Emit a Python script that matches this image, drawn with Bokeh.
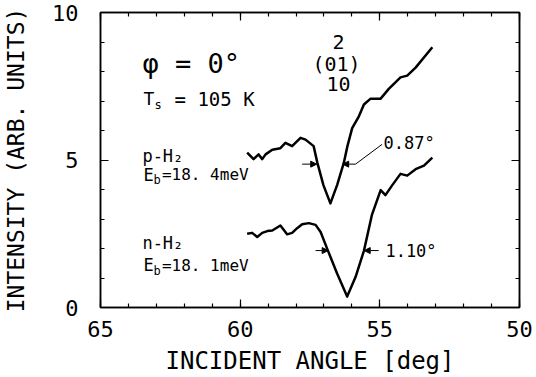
import numpy as np
from bokeh.plotting import figure
from bokeh.models import Range1d, LinearAxis, FixedTicker, Arrow, NormalHead
from bokeh.embed import file_html
from bokeh.resources import INLINE
from bokeh.core.properties import value

# p-H2 curve (upper)
p_angle = [59.75, 59.52, 59.34, 59.21, 59.09, 58.85, 58.56, 58.38, 58.14, 57.84, 57.66,
           57.37, 57.24, 57.02, 56.77, 56.53, 56.29, 56.16, 55.99, 55.75, 55.57, 55.33,
           54.97, 54.68, 54.26, 54.02, 53.72, 53.12]
p_int = [5.25, 5.03, 5.19, 5.03, 5.19, 5.35, 5.40, 5.58, 5.47, 5.75, 5.69,
         5.47, 4.92, 4.15, 3.53, 4.15, 4.90, 5.47, 6.08, 6.48, 6.88, 7.08,
         7.08, 7.41, 7.80, 7.86, 8.13, 8.82]

# n-H2 curve (lower)
n_angle = [59.75, 59.57, 59.39, 59.21, 59.03, 58.85, 58.56, 58.32, 58.14, 57.96, 57.78,
           57.54, 57.30, 57.12, 56.88, 56.53, 56.17, 55.87, 55.57, 55.28, 54.97, 54.80,
           54.56, 54.26, 54.02, 53.72, 53.42, 53.12]
n_int = [2.50, 2.53, 2.39, 2.53, 2.59, 2.61, 2.78, 2.48, 2.53, 2.69, 2.82,
         2.86, 2.80, 2.56, 1.98, 1.15, 0.37, 1.03, 1.92, 3.15, 3.98, 3.81,
         4.14, 4.53, 4.47, 4.69, 4.81, 5.08]

x_major = [65, 60, 55, 50]
x_minor = list(range(50, 66))
y_major = [0, 5, 10]
y_minor = list(range(0, 11))

FONT = "DejaVu Sans Mono"

p = figure(width=536, height=377, x_range=Range1d(65, 50), y_range=Range1d(0, 10),
           output_backend="svg", toolbar_location=None,
           min_border_left=100, min_border_right=17, min_border_top=12, min_border_bottom=69)
p.grid.grid_line_color = None
p.outline_line_color = "black"
p.outline_line_width = 1.5
p.background_fill_color = "white"
p.border_fill_color = "white"


def style_axis(ax, ticks, minor, labels=True):
    ax.ticker = FixedTicker(ticks=ticks, minor_ticks=minor)
    ax.axis_line_color = "black"
    ax.axis_line_width = 1.5
    ax.major_tick_in = 8
    ax.major_tick_out = 0
    ax.minor_tick_in = 4
    ax.minor_tick_out = 0
    ax.major_tick_line_color = "black"
    ax.minor_tick_line_color = "black"
    ax.major_tick_line_width = 1.2
    ax.minor_tick_line_width = 1.2
    if labels:
        ax.major_label_text_font = FONT
        ax.major_label_text_font_size = "22px"
        ax.major_label_text_color = "black"
    else:
        ax.major_label_text_font_size = "0px"
        ax.major_label_text_alpha = 0
        ax.major_label_standoff = 0


xa = p.xaxis[0]
style_axis(xa, x_major, x_minor)
xa.major_label_standoff = 13
xa.axis_label = "INCIDENT ANGLE [deg]"
xa.axis_label_text_font = FONT
xa.axis_label_text_font_size = "24px"
xa.axis_label_text_font_style = "normal"
xa.axis_label_text_color = "black"
xa.axis_label_standoff = 7

ya = p.yaxis[0]
style_axis(ya, y_major, y_minor)
ya.major_label_standoff = 22
ya.axis_label = "INTENSITY (ARB. UNITS)"
ya.axis_label_text_font = FONT
ya.axis_label_text_font_size = "23px"
ya.axis_label_text_font_style = "normal"
ya.axis_label_text_color = "black"
ya.axis_label_standoff = 20

top = LinearAxis()
style_axis(top, x_major, x_minor, labels=False)
p.add_layout(top, "above")
right = LinearAxis()
style_axis(right, y_major, y_minor, labels=False)
p.add_layout(right, "right")

p.line(p_angle, p_int, line_width=2.5, color="black", line_join="round")
p.line(n_angle, n_int, line_width=2.5, color="black", line_join="round")


def txt(x, y, s, size, align="left"):
    p.text(x=[x], y=[y], text=[s], text_font=value(FONT), text_font_size=size,
           text_align=align, text_baseline="middle", text_color="black")


txt(63.50, 8.27, "φ = 0°", "27px")
txt(63.46, 7.08, "T", "18px")
txt(63.07, 6.87, "s", "12px")
txt(62.35, 7.08, "= 105 K", "19px")
txt(56.48, 9.00, "2", "20px", "center")
txt(56.55, 8.27, "(01)", "20px", "center")
txt(56.48, 7.57, "10", "20px", "center")

txt(63.50, 5.12, "p-H₂", "17px")
txt(63.46, 4.50, "E", "17px")
txt(63.10, 4.32, "b", "12px")
txt(62.80, 4.50, "=18. 4meV", "16px")
txt(63.50, 2.18, "n-H₂", "17px")
txt(63.46, 1.43, "E", "17px")
txt(63.10, 1.25, "b", "12px")
txt(62.80, 1.43, "=18. 1meV", "16px")

txt(54.87, 5.58, "0.87°", "17px")
txt(54.80, 1.93, "1.10°", "17px")


def arr(x0, x1, y):
    p.add_layout(Arrow(end=NormalHead(size=6, fill_color="black", line_color="black"),
                       x_start=x0, y_start=y, x_end=x1, y_end=y, line_width=1, line_color="black"))


arr(57.78, 57.26, 4.86)
arr(55.87, 56.33, 4.86)
arr(57.30, 56.85, 1.93)
arr(55.04, 55.56, 1.93)
p.line([55.87, 54.92], [4.86, 5.53], line_width=1, color="black")

open("out.html", "w").write(file_html(p, INLINE))
